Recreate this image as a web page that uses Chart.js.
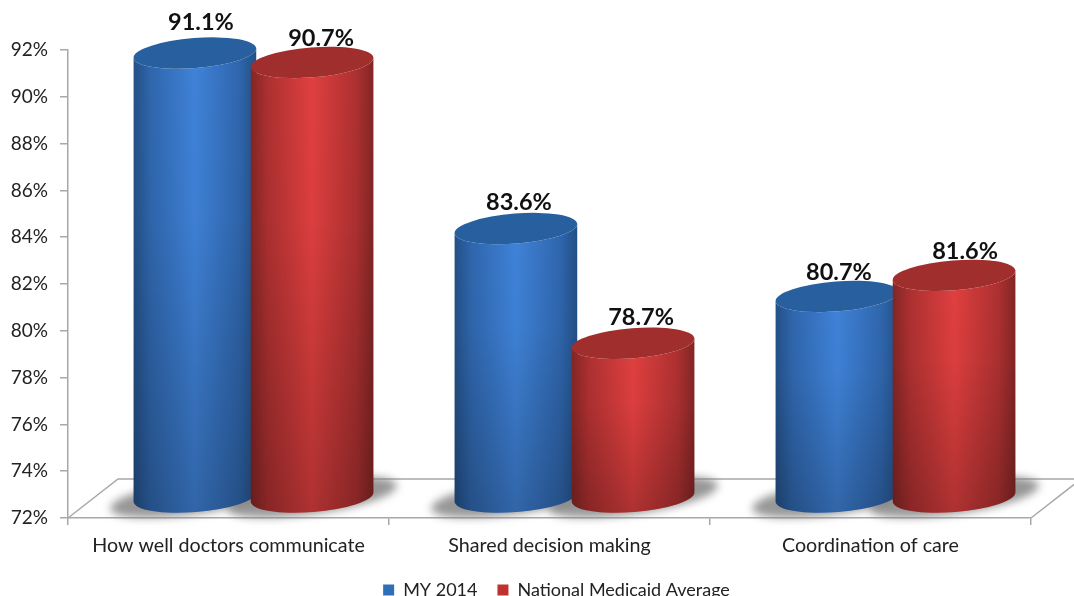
<!DOCTYPE html>
<html>
<head>
<meta charset="utf-8">
<script src="https://cdn.jsdelivr.net/npm/chart.js@4"></script>
<style>
  html, body { margin: 0; background: #fff; overflow: hidden; }
  canvas { display: block; }
</style>
</head>
<body>
<canvas id="chart" width="1074" height="596"></canvas>
<script>
const categories = ['How well doctors communicate', 'Shared decision making', 'Coordination of care'];
const my2014 = [91.1, 83.6, 80.7];
const nationalAverage = [90.7, 78.7, 81.6];
const seriesNames = ['MY 2014', 'National Medicaid Average'];

const FONT = 'Lato, Carlito, sans-serif';
const AXIS_GRAY = '#a8a8a8';

// floor depth of the fake 3d box, bars stand in the middle of it
const DEPTH_X = 50;
const DEPTH_Y = 39;
const BAR_DX = 25;
const BAR_DY = -18;
const BASE_DY = -21;
const RY = 15;
const TILT = -4.5 * Math.PI / 180;

// hand nudges for the value labels, [dx, dy] per series and category
const labelNudge = [
  [[3, -4], [0, 1], [-1, 3]],
  [[6, 3], [5, 1], [8, 3]]
];

const palette = [
  { edge: '#234f85', side: '#2f66ad', mid: '#3f82d8', top: '#28609f', legend: '#2f6fb8' },
  { edge: '#822525', side: '#ad3030', mid: '#e03f3f', top: '#a02e2c', legend: '#c0322f' }
];

const drawFloor = (ctx, area) => {
  ctx.save();
  ctx.strokeStyle = AXIS_GRAY;
  ctx.lineWidth = 1.5;
  ctx.beginPath();
  ctx.moveTo(area.left, area.bottom);
  ctx.lineTo(area.left + DEPTH_X, area.bottom - DEPTH_Y);
  ctx.lineTo(area.right + DEPTH_X, area.bottom - DEPTH_Y);
  ctx.lineTo(area.right, area.bottom);
  ctx.stroke();
  ctx.restore();
};

const drawShadow = (ctx, bar, chartBottom) => {
  const cx = bar.x + BAR_DX;
  const cy = chartBottom + BASE_DY;
  ctx.save();
  ctx.filter = 'blur(4px)';
  ctx.fillStyle = 'rgba(125,125,125,0.8)';
  ctx.beginPath();
  ctx.ellipse(cx, cy, bar.width * 0.73, 17, -8 * Math.PI / 180, 0, Math.PI * 2);
  ctx.fill();
  ctx.restore();
};

const drawCylinder = (ctx, bar, colors, chartBottom) => {
  const rx = bar.width * 0.525;
  const cx = bar.x + BAR_DX;
  const topY = bar.y + BAR_DY;
  const baseY = chartBottom + BASE_DY;

  const side = ctx.createLinearGradient(cx - rx, 0, cx + rx, 0);
  side.addColorStop(0, colors.edge);
  side.addColorStop(0.14, colors.side);
  side.addColorStop(0.5, colors.mid);
  side.addColorStop(0.86, colors.side);
  side.addColorStop(1, colors.edge);

  const shade = ctx.createLinearGradient(0, topY, 0, baseY + RY);
  shade.addColorStop(0, 'rgba(0,0,0,0)');
  shade.addColorStop(0.35, 'rgba(0,0,0,0.02)');
  shade.addColorStop(1, 'rgba(0,0,0,0.22)');

  const body = () => {
    ctx.beginPath();
    ctx.ellipse(cx, baseY, rx, RY, TILT, 0, Math.PI);
    ctx.ellipse(cx, topY, rx, RY, TILT, Math.PI, 0, true);
    ctx.closePath();
  };

  body();
  ctx.fillStyle = side;
  ctx.fill();
  body();
  ctx.fillStyle = shade;
  ctx.fill();

  ctx.beginPath();
  ctx.ellipse(cx, topY, rx, RY, TILT, 0, Math.PI * 2);
  ctx.fillStyle = colors.top;
  ctx.fill();
};

const cylinderPlugin = {
  id: 'cylinders',
  afterLayout(chart) {
    // legend sits to the right of where chart.js centers it
    const legend = chart.legend;
    legend.left += 41;
    legend.right += 41;
  },
  beforeDatasetsDraw(chart) {
    const ctx = chart.ctx;
    const area = chart.chartArea;
    drawFloor(ctx, area);
    const metas = chart.data.datasets.map((_, i) => chart.getDatasetMeta(i));
    metas.forEach(meta => meta.data.forEach(bar => drawShadow(ctx, bar, area.bottom)));
    categories.forEach((_, c) => {
      metas.forEach((meta, s) => drawCylinder(ctx, meta.data[c], palette[s], area.bottom));
    });
  },
  beforeDatasetDraw() {
    return false;
  },
  afterDatasetsDraw(chart) {
    const ctx = chart.ctx;
    ctx.save();
    ctx.font = 'bold 23.5px ' + FONT;
    ctx.fillStyle = '#111';
    ctx.textAlign = 'center';
    ctx.textBaseline = 'middle';
    chart.data.datasets.forEach((ds, s) => {
      chart.getDatasetMeta(s).data.forEach((bar, c) => {
        const label = ds.data[c].toFixed(1) + '%';
        const [dx, dy] = labelNudge[s][c];
        ctx.fillText(label, bar.x + BAR_DX + 3 + dx, bar.y + BAR_DY - 27 + dy);
      });
    });
    ctx.restore();
  }
};

new Chart(document.getElementById('chart'), {
  type: 'bar',
  data: {
    labels: categories,
    datasets: [
      { label: seriesNames[0], data: my2014, backgroundColor: palette[0].legend },
      { label: seriesNames[1], data: nationalAverage, backgroundColor: palette[1].legend }
    ]
  },
  options: {
    responsive: false,
    animation: false,
    categoryPercentage: 0.73,
    barPercentage: 1,
    layout: { padding: { top: 50, right: 43, left: 0, bottom: -13 } },
    plugins: {
      tooltip: { enabled: false },
      legend: {
        position: 'bottom',
        labels: {
          boxWidth: 11,
          boxHeight: 11,
          padding: 20,
          color: '#222',
          font: { family: FONT, size: 18 }
        }
      }
    },
    scales: {
      x: {
        afterFit: s => { s.height = 43; },
        grid: { drawOnChartArea: false, color: AXIS_GRAY, tickLength: 7, lineWidth: 1.5 },
        border: { color: AXIS_GRAY, width: 1.5 },
        ticks: { color: '#222', padding: 9, maxRotation: 0, font: { family: FONT, size: 19.7 } }
      },
      y: {
        min: 72,
        max: 92,
        afterFit: s => { s.width = 68; },
        grid: { drawOnChartArea: false, color: AXIS_GRAY, tickLength: 8, lineWidth: 1.5 },
        border: { color: AXIS_GRAY, width: 1.5 },
        ticks: {
          stepSize: 2,
          color: '#222',
          padding: 12,
          font: { family: FONT, size: 19 },
          callback: v => v + '%'
        }
      }
    }
  },
  plugins: [cylinderPlugin]
});
</script>
</body>
</html>
